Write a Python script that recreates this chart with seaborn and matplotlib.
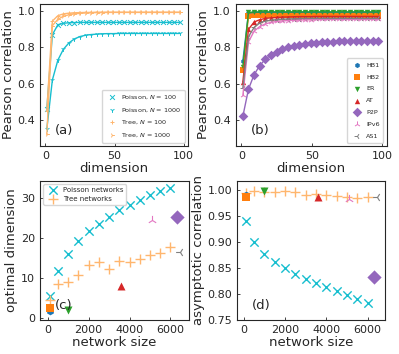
import matplotlib
matplotlib.use("Agg")
import matplotlib.pyplot as plt
import seaborn as sns

sns.set_style("ticks")
plt.rcParams['font.family'] = ['DejaVu Sans']
plt.rcParams['xtick.direction'] = 'in'
plt.rcParams['ytick.direction'] = 'in'

# --- data: correlation vs dimension, model networks (a)
dims = [1, 5, 9, 13, 17, 21, 25, 29, 33, 37, 41, 45, 49, 53, 57, 61, 65, 69, 73, 77, 81, 85, 89, 93, 97]
poisson_100 = [0.46, 0.87, 0.925, 0.933, 0.936, 0.937, 0.938, 0.938, 0.938, 0.938, 0.938, 0.938, 0.938,
               0.938, 0.938, 0.938, 0.938, 0.938, 0.938, 0.938, 0.938, 0.938, 0.938, 0.938, 0.938]
poisson_1000 = [0.35, 0.62, 0.73, 0.79, 0.825, 0.847, 0.86, 0.867, 0.871, 0.873, 0.875, 0.876, 0.876,
                0.877, 0.877, 0.877, 0.877, 0.877, 0.877, 0.877, 0.877, 0.877, 0.877, 0.877, 0.877]
tree_100 = [0.45, 0.945, 0.975, 0.985, 0.989, 0.991, 0.992, 0.993, 0.993, 0.994, 0.994, 0.994, 0.994,
            0.994, 0.994, 0.994, 0.994, 0.994, 0.994, 0.994, 0.994, 0.994, 0.994, 0.994, 0.994]
tree_1000 = [0.32, 0.92, 0.955, 0.972, 0.98, 0.985, 0.988, 0.99, 0.991, 0.992, 0.992, 0.993, 0.993,
             0.993, 0.993, 0.993, 0.993, 0.993, 0.993, 0.993, 0.993, 0.993, 0.993, 0.993, 0.993]

# --- data: correlation vs dimension, real networks (b)
real_names = ['HB1', 'HB2', 'ER', 'AT', 'P2P', 'IPv6', 'AS1']
hb1 = [0.725, 0.99, 0.993, 0.994, 0.994, 0.994, 0.994, 0.994, 0.994, 0.994, 0.994, 0.994, 0.994,
       0.994, 0.994, 0.994, 0.994, 0.994, 0.994, 0.994, 0.994, 0.994, 0.994, 0.994, 0.994]
hb2 = [0.673, 0.975, 0.976, 0.977, 0.977, 0.977, 0.977, 0.977, 0.977, 0.977, 0.977, 0.977, 0.977,
       0.977, 0.977, 0.977, 0.977, 0.977, 0.977, 0.977, 0.977, 0.977, 0.977, 0.977, 0.977]
er = [0.69, 0.993, 0.995, 0.996, 0.996, 0.996, 0.996, 0.996, 0.996, 0.996, 0.996, 0.996, 0.996,
      0.996, 0.996, 0.996, 0.996, 0.996, 0.996, 0.996, 0.996, 0.996, 0.996, 0.996, 0.996]
at = [0.61, 0.90, 0.94, 0.953, 0.96, 0.963, 0.965, 0.967, 0.968, 0.969, 0.97, 0.97, 0.97,
      0.971, 0.971, 0.971, 0.971, 0.971, 0.971, 0.971, 0.971, 0.971, 0.971, 0.971, 0.971]
p2p = [0.42, 0.57, 0.65, 0.70, 0.735, 0.76, 0.775, 0.79, 0.80, 0.808, 0.814, 0.819, 0.823,
       0.826, 0.828, 0.830, 0.832, 0.833, 0.834, 0.835, 0.836, 0.837, 0.837, 0.838, 0.838]
ipv6 = [0.535, 0.83, 0.89, 0.915, 0.93, 0.938, 0.943, 0.946, 0.948, 0.95, 0.951, 0.952, 0.953,
        0.954, 0.954, 0.955, 0.955, 0.955, 0.955, 0.955, 0.955, 0.955, 0.955, 0.955, 0.955]
as1 = [0.578, 0.86, 0.91, 0.935, 0.945, 0.95, 0.953, 0.955, 0.957, 0.958, 0.959, 0.96, 0.96,
       0.96, 0.96, 0.96, 0.96, 0.96, 0.96, 0.96, 0.96, 0.96, 0.96, 0.96, 0.96]

# --- data: optimal dimension / asymptotic correlation vs network size (c, d)
sizes = [100, 500, 1000, 1500, 2000, 2500, 3000, 3500, 4000, 4500, 5000, 5500, 6000]
poisson_opt = [5.5, 11.8, 16.0, 19.3, 21.7, 23.5, 25.3, 26.9, 28.3, 29.4, 30.6, 31.6, 32.5]
tree_opt = [4.7, 8.5, 9.0, 10.7, 13.2, 14.1, 12.2, 14.3, 14.0, 14.8, 15.8, 16.3, 17.7]
poisson_asym = [0.94, 0.899, 0.877, 0.861, 0.849, 0.838, 0.829, 0.821, 0.813, 0.805, 0.797, 0.79, 0.783]
tree_asym = [0.993, 0.997, 0.995, 0.996, 0.997, 0.995, 0.989, 0.991, 0.989, 0.988, 0.986, 0.983, 0.986]

real_sizes = [100, 100, 1000, 3600, 6300, 5120, 6450]
real_opt = [1.8, 2.5, 2.0, 8.0, 25.3, 24.5, 16.6]
real_asym = [0.99, 0.985, 0.998, 0.985, 0.833, 0.982, 0.985]

cyan = '#17becf'
lorange = '#ffb66e'
real_colors = ['tab:blue', 'tab:orange', 'tab:green', 'tab:red', 'tab:purple', 'tab:pink', 'tab:gray']
real_markers = ['h', 's', 'v', '^', 'D', '2', '3']
real_msize = [14, 13, 15, 15, 24, 20, 18]

fig = plt.figure(figsize=(3.99, 3.54), dpi=100)
ax_a = fig.add_axes([0.100, 0.588, 0.371, 0.401])
ax_b = fig.add_axes([0.591, 0.588, 0.378, 0.401])
ax_c = fig.add_axes([0.100, 0.096, 0.373, 0.393])
ax_d = fig.add_axes([0.594, 0.096, 0.371, 0.393])

# (a)
series_a = [(poisson_100, 'x', cyan, r'Poisson, $N$ = 100'),
            (poisson_1000, '1', cyan, r'Poisson, $N$ = 1000'),
            (tree_100, '+', lorange, r'Tree, $N$ = 100'),
            (tree_1000, '4', lorange, r'Tree, $N$ = 1000')]
for vals, mk, col, lab in series_a:
    sns.lineplot(x=dims, y=vals, color=col, lw=1, ax=ax_a)
    sns.scatterplot(x=dims, y=vals, marker=mk, color=col, s=12, linewidth=0.7, label=lab, ax=ax_a)

# (b)
series_b = [hb1, hb2, er, at, p2p, ipv6, as1]
for vals, name, col, mk, ms in zip(series_b, real_names, real_colors, real_markers, real_msize):
    sns.lineplot(x=dims, y=vals, color=col, lw=1, ax=ax_b)
    sns.scatterplot(x=dims, y=vals, marker=mk, color=col, s=ms, linewidth=0.7 if mk in '23' else 0,
                    label=name, ax=ax_b)

for ax in (ax_a, ax_b):
    ax.set_xlim(-4, 103)
    ax.set_ylim(0.257, 1.04)
    ax.set_xticks([0, 50, 100])
    ax.set_yticks([0.4, 0.6, 0.8, 1.0])
    ax.set_xlabel('dimension', fontsize=9.5, labelpad=1)
    ax.set_ylabel('Pearson correlation', fontsize=9.5, labelpad=2)

ax_a.legend(loc='lower right', fontsize=4.6, handletextpad=0.4, borderpad=0.6, labelspacing=0.8,
            frameon=True, fancybox=True)
ax_b.legend(loc='lower right', fontsize=4.6, handletextpad=0.4, borderpad=0.6, labelspacing=1.0,
            frameon=True, fancybox=True)

# (c)
sns.scatterplot(x=sizes, y=poisson_opt, marker='x', color=cyan, s=36, linewidth=1, label='Poisson networks', ax=ax_c)
sns.scatterplot(x=sizes, y=tree_opt, marker='+', color=lorange, s=60, linewidth=1, label='Tree networks', ax=ax_c)
# (d)
sns.scatterplot(x=sizes, y=poisson_asym, marker='x', color=cyan, s=36, linewidth=1, ax=ax_d)
sns.scatterplot(x=sizes, y=tree_asym, marker='+', color=lorange, s=60, linewidth=1, ax=ax_d)

for i in range(len(real_names)):
    lw = 0.8 if real_markers[i] in '23' else 0
    sns.scatterplot(x=[real_sizes[i]], y=[real_opt[i]], marker=real_markers[i], color=real_colors[i],
                    s=real_msize[i] * 2.2, linewidth=lw, ax=ax_c)
    sns.scatterplot(x=[real_sizes[i]], y=[real_asym[i]], marker=real_markers[i], color=real_colors[i],
                    s=real_msize[i] * 2.2, linewidth=lw, ax=ax_d)

ax_c.set_xlim(-375, 6890)
ax_c.set_ylim(-0.4, 34.2)
ax_c.set_yticks([0, 10, 20, 30])
ax_c.set_ylabel('optimal dimension', fontsize=9.5, labelpad=2)
ax_c.legend(loc='upper left', fontsize=5, handletextpad=0.4, borderpad=0.4, labelspacing=0.4)

ax_d.set_xlim(-320, 6840)
ax_d.set_ylim(0.75, 1.0165)
ax_d.set_yticks([0.75, 0.80, 0.85, 0.90, 0.95, 1.00])
ax_d.set_ylabel('asymptotic correlation', fontsize=9.5, labelpad=2)

for ax in (ax_c, ax_d):
    ax.set_xticks([0, 2000, 4000, 6000])
    ax.set_xlabel('network size', fontsize=9.5, labelpad=1)

for ax, tag in zip((ax_a, ax_b, ax_c, ax_d), ('(a)', '(b)', '(c)', '(d)')):
    ax.tick_params(labelsize=8, length=2.5, width=0.6)
    for sp in ax.spines.values():
        sp.set_linewidth(0.8)
    ax.text(0.1, 0.08, tag, transform=ax.transAxes, fontsize=9.5)

fig.savefig('out.png', dpi=100)
